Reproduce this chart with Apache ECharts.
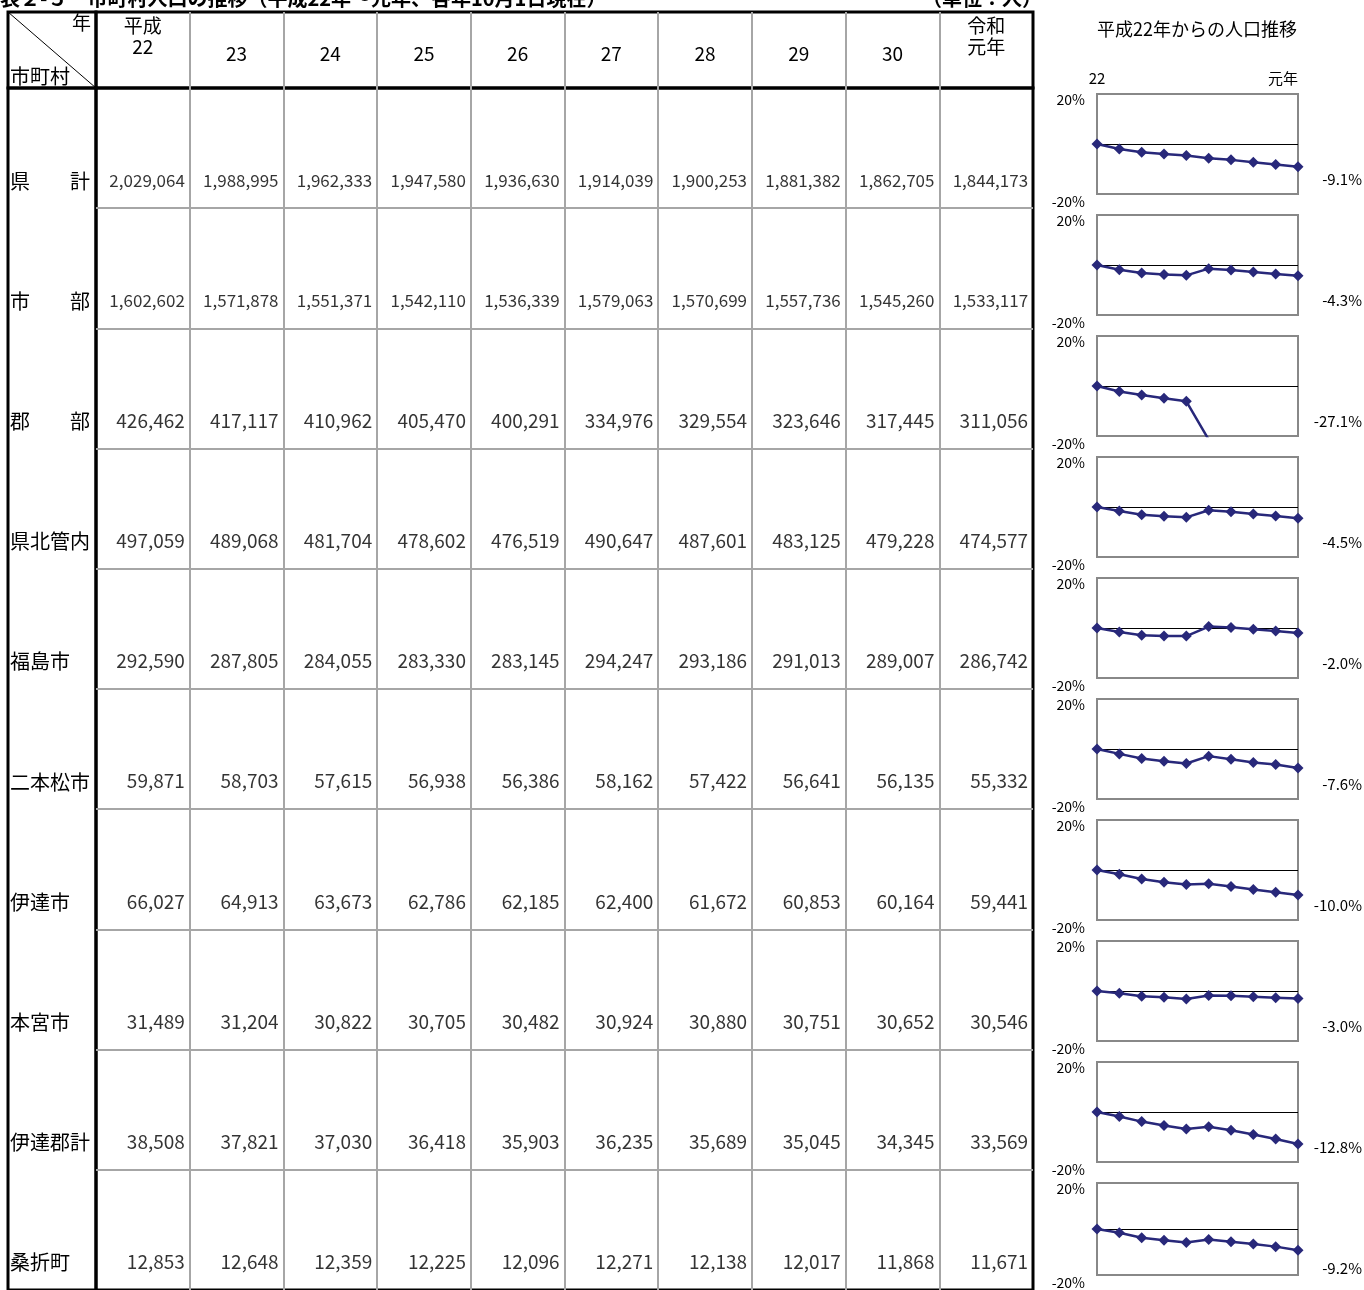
<!DOCTYPE html>
<html><head><meta charset="utf-8">
<script src="https://cdn.jsdelivr.net/npm/echarts@6/dist/echarts.min.js"></script>
<style>html,body{margin:0;padding:0;background:#fff}#c{width:1364px;height:1290px}</style>
</head><body><div id="c"></div>
<script>
// ---- data ----
const years = ['22','23','24','25','26','27','28','29','30','元年'];
const rowNames = ['県　　計','市　　部','郡　　部','県北管内','福島市','二本松市','伊達市','本宮市','伊達郡計','桑折町'];
const kenkei   = [2029064,1988995,1962333,1947580,1936630,1914039,1900253,1881382,1862705,1844173];
const shibu    = [1602602,1571878,1551371,1542110,1536339,1579063,1570699,1557736,1545260,1533117];
const gunbu    = [426462,417117,410962,405470,400291,334976,329554,323646,317445,311056];
const kenpoku  = [497059,489068,481704,478602,476519,490647,487601,483125,479228,474577];
const fukushima= [292590,287805,284055,283330,283145,294247,293186,291013,289007,286742];
const nihonmatsu=[59871,58703,57615,56938,56386,58162,57422,56641,56135,55332];
const date     = [66027,64913,63673,62786,62185,62400,61672,60853,60164,59441];
const motomiya = [31489,31204,30822,30705,30482,30924,30880,30751,30652,30546];
const dategun  = [38508,37821,37030,36418,35903,36235,35689,35045,34345,33569];
const koori    = [12853,12648,12359,12225,12096,12271,12138,12017,11868,11671];
const rows = [kenkei,shibu,gunbu,kenpoku,fukushima,nihonmatsu,date,motomiya,dategun,koori];
const sparkTicks = [-20, 0, 20];

// ---- layout ----
const FONT = '"Noto Sans CJK JP","Noto Sans",sans-serif';
const TL = 96, TT = 88, TW = 937, RH = 121, NR = rowNames.length, TH = RH * NR;
const SPL = 1097, SPW = 201, SPH = 100, SPOFF = 6;
const GRAY = '#a6a6a6', NAVY = '#28287a';

const chart = echarts.init(document.getElementById('c'));
const grids = [], xAxes = [], yAxes = [], series = [];
const titles = [
  {text:'表２-５　市町村人口の推移（平成22年～元年、各年10月1日現在）', left:0, top:-12, padding:0,
   textStyle:{fontSize:20, fontWeight:'bold', color:'#000', fontFamily:FONT}},
  {text:'（単位：人）', left:922, top:-12, padding:0,
   textStyle:{fontSize:20, fontWeight:'bold', color:'#000', fontFamily:FONT}},
  {text:'平成22年からの人口推移', left:SPL, top:20, padding:0,
   textStyle:{fontSize:18, fontWeight:'normal', color:'#000', fontFamily:FONT}}
];

const headerData = years.map((y, i) => {
  if (i === 0) return {value:'平成\n' + y, textStyle:{lineHeight:21, padding:[0,0,7,0]}};
  if (i === years.length - 1) return {value:'令和\n' + y, textStyle:{lineHeight:21, padding:[0,0,7,0]}};
  return y;
});

// grid 0: main table body
grids.push({left:TL, top:TT, width:TW, height:TH, show:true, borderColor:'#000', borderWidth:3, backgroundColor:'transparent'});
xAxes.push({gridIndex:0, type:'category', data:headerData, position:'top', boundaryGap:true,
  axisLine:{show:false}, axisTick:{show:false},
  axisLabel:{interval:0, margin:24, fontSize:19, color:'#000', fontFamily:FONT, verticalAlign:'bottom', lineHeight:20},
  splitLine:{show:true, showMinLine:false, showMaxLine:false, lineStyle:{color:GRAY, width:2}}});
yAxes.push({gridIndex:0, type:'category', data:rowNames, inverse:true,
  axisLine:{show:false}, axisTick:{show:false},
  axisLabel:{interval:0, margin:86, align:'left', verticalAlign:'middle', color:'#000',
    formatter: v => '{n|' + v + '}',
    rich:{n:{padding:[66,0,0,0], fontSize:20, fontFamily:FONT, color:'#000'}}},
  splitLine:{show:true, showMinLine:false, showMaxLine:false, lineStyle:{color:GRAY, width:2}}});

// grid 1: header row of data columns
grids.push({left:TL, top:12, width:TW, height:TT - 12, show:true, borderColor:'#000', borderWidth:3, backgroundColor:'transparent'});
xAxes.push({gridIndex:1, type:'category', data:years, boundaryGap:true,
  axisLine:{show:false}, axisTick:{show:false}, axisLabel:{show:false},
  splitLine:{show:true, showMinLine:false, showMaxLine:false, lineStyle:{color:GRAY, width:2}}});
yAxes.push({gridIndex:1, type:'value', show:false});

// grid 2: header-left cell, grid 3: label column
grids.push({left:8, top:12, width:TL - 8, height:TT - 12, show:true, borderColor:'#000', borderWidth:3, backgroundColor:'transparent'});
xAxes.push({gridIndex:2, type:'value', show:false});
yAxes.push({gridIndex:2, type:'value', show:false});
grids.push({left:8, top:TT, width:TL - 8, height:TH, show:true, borderColor:'#000', borderWidth:3, backgroundColor:'transparent'});
xAxes.push({gridIndex:3, type:'value', show:false});
yAxes.push({gridIndex:3, type:'value', show:false});

// table values
series.push({type:'scatter', xAxisIndex:0, yAxisIndex:0, silent:true, animation:false,
  symbolSize:1, itemStyle:{color:'rgba(0,0,0,0)'},
  data: rows.flatMap((arr, r) => arr.map((v, c) => [c, r, v])),
  label:{show:true, position:'inside', align:'right', verticalAlign:'middle', offset:[42, 32],
    formatter: p => {
      const v = p.value[2], s = v.toLocaleString('en-US');
      return v >= 1e6 ? '{b|' + s + '}' : '{n|' + s + '}';
    },
    rich:{b:{fontSize:17, color:'#000', fontFamily:FONT}, n:{fontSize:19, color:'#000', fontFamily:FONT}}}});

// sparklines
rows.forEach((arr, r) => {
  const g = grids.length;
  const top = TT + r * RH + SPOFF;
  grids.push({left:SPL, top:top, width:SPW, height:SPH, show:true, borderColor:'#888', borderWidth:2, backgroundColor:'transparent'});
  xAxes.push({gridIndex:g, type:'category', data:years, boundaryGap:false, position:'top',
    axisLine:{show:false}, axisTick:{show:false},
    axisLabel:{show:r === 0, interval:(i) => i === 0 || i === years.length - 1, margin:8, fontSize:15,
      color:'#000', fontFamily:FONT, alignMinLabel:'center', alignMaxLabel:'right'},
    splitLine:{show:false}});
  yAxes.push({gridIndex:g, type:'value', min:sparkTicks[0], max:sparkTicks[2], interval:sparkTicks[1] - sparkTicks[0],
    axisLine:{show:false}, axisTick:{show:false},
    axisLabel:{margin:12, color:'#000', fontFamily:FONT, fontSize:14,
      formatter: v => v === sparkTicks[2] ? '{hi|' + v + '%}' : (v === sparkTicks[0] ? '{lo|' + v + '%}' : ''),
      rich:{hi:{padding:[12,0,0,0], fontSize:14, fontFamily:FONT, color:'#000'},
            lo:{padding:[16,0,0,0], fontSize:14, fontFamily:FONT, color:'#000'}}},
    splitLine:{show:true, showMinLine:false, showMaxLine:false, lineStyle:{color:'#000', width:1}}});
  const pct = arr.map(v => (v / arr[0] - 1) * 100);
  series.push({type:'line', xAxisIndex:g, yAxisIndex:g, data:pct, clip:true, silent:true, animation:false,
    symbol:'diamond', symbolSize:11, showAllSymbol:true,
    lineStyle:{color:NAVY, width:2.5}, itemStyle:{color:NAVY}});
  titles.push({text:pct[pct.length - 1].toFixed(1) + '%', right:2, top:top + SPH - 22, padding:0,
    textStyle:{fontSize:15, fontWeight:'normal', color:'#000', fontFamily:FONT}});
});

chart.setOption({
  animation:false,
  backgroundColor:'#fff',
  title:titles,
  grid:grids, xAxis:xAxes, yAxis:yAxes, series:series,
  graphic:[
    {type:'line', shape:{x1:8, y1:12, x2:TL, y2:TT}, style:{stroke:'#000', lineWidth:1}, z:10},
    {type:'text', left:72, top:13, style:{text:'年', fontSize:19, fill:'#000', fontFamily:FONT}, z:10},
    {type:'text', left:10, top:66, style:{text:'市町村', fontSize:20, fill:'#000', fontFamily:FONT}, z:10}
  ]
});
</script></body></html>
